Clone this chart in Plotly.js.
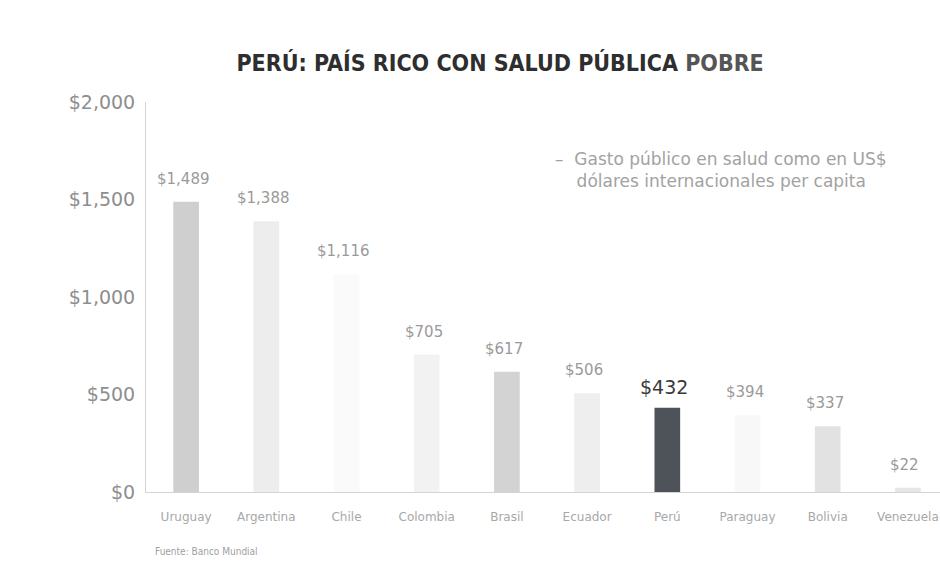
<!DOCTYPE html>
<html>
<head>
<meta charset="utf-8">
<script src="https://cdn.plot.ly/plotly-3.0.1.min.js"></script>
<style>html,body{margin:0;padding:0;background:#fff;}</style>
</head>
<body>
<div id="chart" style="width:940px;height:571px;"></div>
<script>
var countries = ["Uruguay", "Argentina", "Chile", "Colombia", "Brasil", "Ecuador", "Perú", "Paraguay", "Bolivia", "Venezuela"];
var values = [1489, 1388, 1116, 705, 617, 506, 432, 394, 337, 22];
var valueLabels = ["$1,489", "$1,388", "$1,116", "$705", "$617", "$506", "$432", "$394", "$337", "$22"];
var barColors = ["#cfcfcf", "#ededed", "#fafafa", "#f2f2f2", "#d3d3d3", "#eeeeee", "#4e535a", "#f8f8f8", "#e2e2e2", "#e6e6e6"];
var yTickVals = [0, 500, 1000, 1500, 2000];
var yTickText = ["$0", "$500", "$1,000", "$1,500", "$2,000"];
var highlight = "Perú";

var annotations = countries.map(function (c, i) {
  var hi = c === highlight;
  return {
    x: c, y: values[i], xref: "x", yref: "y",
    text: valueLabels[i], showarrow: false,
    yanchor: "bottom", yshift: hi ? 8 : 12, xshift: -3,
    font: {family: "DejaVu Sans", size: hi ? 19 : 15, color: hi ? "#3a3a3a" : "#9a9a9a"}
  };
});
annotations.push({
  xref: "paper", yref: "paper", x: 0.512, y: 0.884, xanchor: "left", yanchor: "top",
  align: "left", showarrow: false,
  text: "–  Gasto público en salud como en US$<br>    dólares internacionales per capita",
  font: {family: "DejaVu Sans", size: 17, color: "#a2a2a2"}
});
annotations.push({
  xref: "paper", yref: "paper", x: 0.009, y: -0.133, xanchor: "left", yanchor: "top",
  showarrow: false, text: "Fuente: Banco Mundial",
  font: {family: "DejaVu Sans Condensed, DejaVu Sans", size: 10, color: "#a0a0a0"}
});

var trace = {
  type: "bar", x: countries, y: values, width: 0.32,
  marker: {color: barColors, line: {width: 0}},
  hoverinfo: "x+y"
};

var layout = {
  width: 940, height: 571,
  margin: {l: 146, r: 0, t: 102, b: 79, pad: 0},
  paper_bgcolor: "#ffffff", plot_bgcolor: "#ffffff",
  title: {
    text: "<b>PERÚ: PAÍS RICO CON SALUD PÚBLICA <span style='color:#555'>POBRE</span></b>",
    x: 0.532, xanchor: "center", y: 0.89, yanchor: "middle",
    font: {family: "DejaVu Sans Condensed, DejaVu Sans", size: 23, color: "#2e2e2e"}
  },
  showlegend: false,
  xaxis: {
    type: "category", range: [-0.5, 9.4],
    showline: true, linecolor: "#d4d4d4", linewidth: 1,
    showgrid: false, zeroline: false, ticks: "",
    ticklabelstandoff: 14,
    tickfont: {family: "DejaVu Sans", size: 12, color: "#a8a8a8"}
  },
  yaxis: {
    range: [0, 2000], tickvals: yTickVals, ticktext: yTickText,
    showline: true, linecolor: "#d4d4d4", linewidth: 1,
    showgrid: false, zeroline: false, ticks: "",
    ticklabelstandoff: 6,
    tickfont: {family: "DejaVu Sans", size: 19, color: "#8e8e8e"}
  },
  annotations: annotations
};

Plotly.newPlot("chart", [trace], layout, {displayModeBar: false, staticPlot: true});
</script>
</body>
</html>
